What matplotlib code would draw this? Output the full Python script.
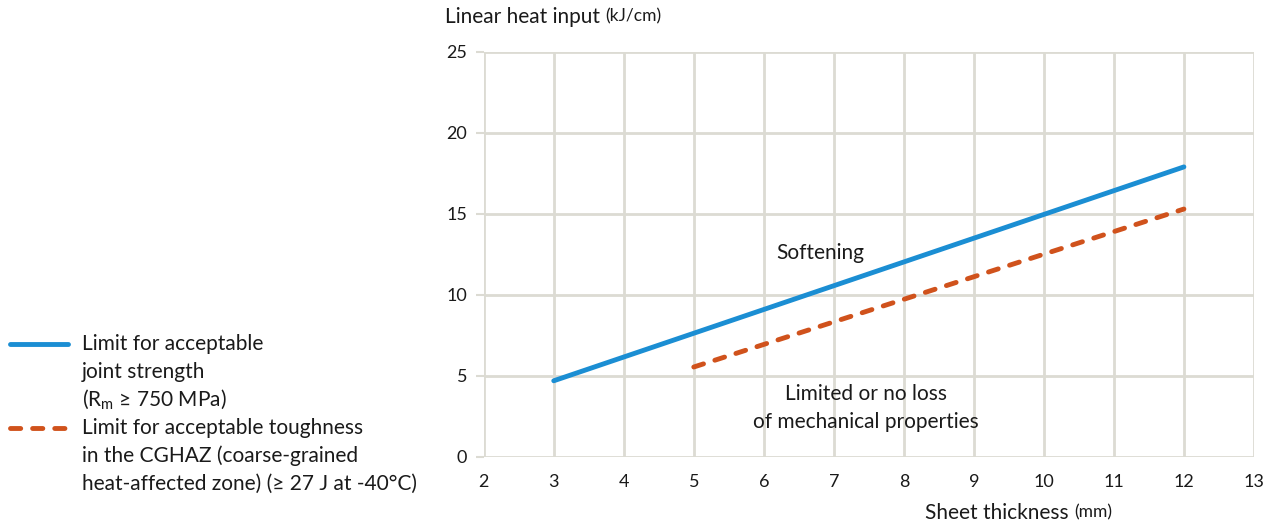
import matplotlib
matplotlib.use("Agg")
import matplotlib.pyplot as plt
from matplotlib.lines import Line2D

plt.rcParams['font.family'] = ['Lato', 'DejaVu Sans']
plt.rcParams['mathtext.fontset'] = 'custom'
plt.rcParams['mathtext.rm'] = 'Lato'

# Data
strength_x = [3, 12]
strength_y = [4.7, 17.9]
toughness_x = [5, 12]
toughness_y = [5.55, 15.3]
x_ticks = list(range(2, 14))
y_ticks = [0, 5, 10, 15, 20, 25]

blue = '#1b8ed3'
orange = '#d0521c'
grid_c = '#dcdbd3'
txt_c = '#1a1a1a'
FS = 15
DASH = (2.1, 2.45)

fig = plt.figure(figsize=(12.73, 5.24), dpi=100)
ax = fig.add_axes([0.380, 0.128, 0.605, 0.773])
ax.set_xlim(2, 13)
ax.set_ylim(0, 25)
ax.set_xticks(x_ticks)
ax.set_yticks(y_ticks)
ax.grid(True, color=grid_c, linewidth=2)
for s in ax.spines.values():
    s.set_visible(False)
ax.tick_params(axis='x', length=0, pad=12, labelsize=13, labelcolor=txt_c)
ax.tick_params(axis='y', length=6, width=1.5, color=grid_c, pad=6, labelsize=13, labelcolor=txt_c)

l1, = ax.plot(strength_x, strength_y, color=blue, lw=3.5, solid_capstyle='round')
l2, = ax.plot(toughness_x, toughness_y, color=orange, lw=3.5, dashes=DASH,
              dash_capstyle='round')

ax.text(6.8, 12.6, 'Softening', ha='center', va='center', fontsize=FS, color=txt_c)
ax.text(7.46, 3.9, 'Limited or no loss', ha='center', va='center', fontsize=FS, color=txt_c)
ax.text(7.46, 2.17, 'of mechanical properties', ha='center', va='center', fontsize=FS, color=txt_c)

# axis labels
def fy(p):
    return 1 - p / 524

t1 = fig.text(445/1273, fy(17), 'Linear heat input', fontsize=FS, color=txt_c, va='center', ha='left')
ax.annotate('(kJ/cm)', xy=(1, 0.15), xycoords=t1, xytext=(4, 0), textcoords='offset points',
            fontsize=12.5, color=txt_c, va='bottom', ha='left', annotation_clip=False)
t2 = fig.text(925/1273, fy(513), 'Sheet thickness', fontsize=FS, color=txt_c, va='center', ha='left')
ax.annotate('(mm)', xy=(1, 0.15), xycoords=t2, xytext=(4, 0), textcoords='offset points',
            fontsize=12.5, color=txt_c, va='bottom', ha='left', annotation_clip=False)

# legend (manual)
fig.add_artist(Line2D([10/1273, 68/1273], [fy(344), fy(344)], color=blue, lw=3.5,
                      solid_capstyle='round', transform=fig.transFigure))
fig.add_artist(Line2D([10/1273, 68/1273], [fy(428), fy(428)], color=orange, lw=3.5,
                      dashes=DASH, dash_capstyle='round', transform=fig.transFigure))
leg1 = ['Limit for acceptable', 'joint strength', r'(R$_\mathregular{m}$ ≥ 750 MPa)']
leg2 = ['Limit for acceptable toughness', 'in the CGHAZ (coarse-grained',
        'heat-affected zone) (≥ 27 J at -40°C)']
for i, t in enumerate(leg1):
    fig.text(82/1273, fy(344 + 28 * i), t, fontsize=FS, color=txt_c, va='center', ha='left')
for i, t in enumerate(leg2):
    fig.text(82/1273, fy(428 + 28 * i), t, fontsize=FS, color=txt_c, va='center', ha='left')

fig.savefig('out.png', dpi=100, facecolor='white')
